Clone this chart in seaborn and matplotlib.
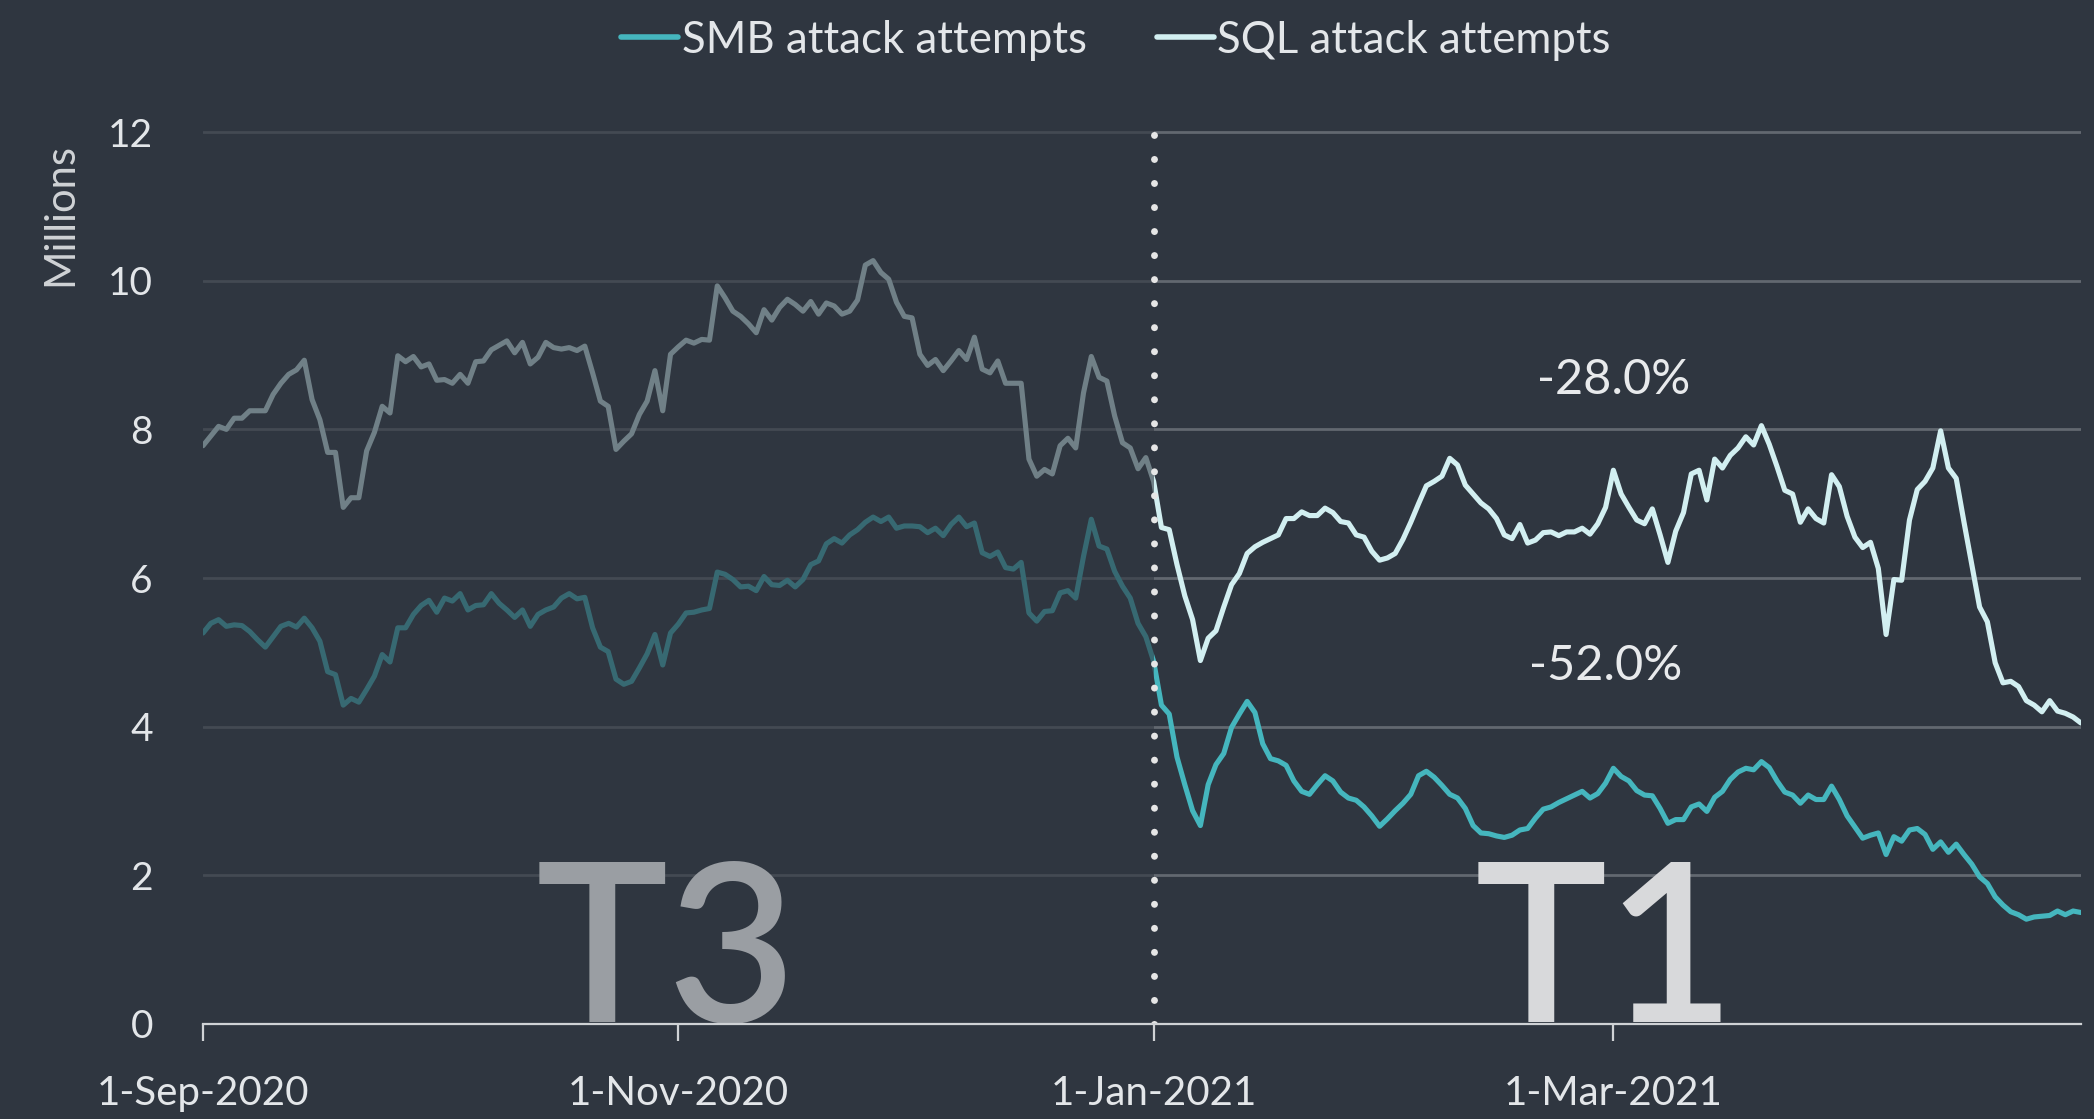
import matplotlib
matplotlib.use("Agg")
import matplotlib.pyplot as plt
import pandas as pd
import seaborn as sns
from matplotlib.lines import Line2D

# Daily attack attempts, in millions, 1 Sep 2020 - 30 Apr 2021
dates = pd.date_range("2020-09-01", "2021-04-30", freq="D")

sql_attempts = [
    7.78, 7.91, 8.04, 8.00, 8.15, 8.15, 8.25, 8.25, 8.25, 8.47,
    8.62, 8.74, 8.80, 8.93, 8.40, 8.13, 7.69, 7.69, 6.95, 7.08,
    7.08, 7.71, 7.96, 8.31, 8.22, 8.99, 8.91, 8.98, 8.84, 8.88,
    8.66, 8.67, 8.62, 8.74, 8.62, 8.91, 8.92, 9.07, 9.13, 9.19,
    9.03, 9.17, 8.88, 8.97, 9.17, 9.10, 9.08, 9.10, 9.06, 9.12,
    8.76, 8.38, 8.31, 7.73, 7.84, 7.94, 8.20, 8.38, 8.79, 8.25,
    9.01, 9.11, 9.20, 9.16, 9.21, 9.20, 9.93, 9.77, 9.59, 9.52,
    9.42, 9.30, 9.61, 9.47, 9.64, 9.75, 9.68, 9.59, 9.72, 9.55,
    9.70, 9.66, 9.55, 9.59, 9.74, 10.21, 10.27, 10.11, 10.02, 9.71,
    9.52, 9.50, 9.01, 8.86, 8.94, 8.79, 8.92, 9.06, 8.94, 9.24,
    8.81, 8.76, 8.92, 8.62, 8.62, 8.62, 7.60, 7.37, 7.46, 7.40,
    7.78, 7.88, 7.75, 8.49, 8.98, 8.70, 8.65, 8.18, 7.82, 7.75,
    7.47, 7.62, 7.30, 6.68, 6.65, 6.18, 5.76, 5.44, 4.89, 5.19,
    5.29, 5.61, 5.91, 6.06, 6.33, 6.42, 6.48, 6.53, 6.58, 6.80,
    6.80, 6.89, 6.84, 6.84, 6.94, 6.88, 6.76, 6.74, 6.58, 6.55,
    6.36, 6.24, 6.27, 6.33, 6.52, 6.75, 7.00, 7.24, 7.30, 7.37,
    7.61, 7.52, 7.25, 7.13, 7.01, 6.93, 6.80, 6.58, 6.53, 6.72,
    6.47, 6.51, 6.61, 6.62, 6.57, 6.62, 6.62, 6.67, 6.59, 6.73,
    6.95, 7.45, 7.13, 6.95, 6.78, 6.73, 6.93, 6.58, 6.21, 6.63,
    6.88, 7.40, 7.45, 7.05, 7.60, 7.48, 7.65, 7.75, 7.90, 7.79,
    8.05, 7.80, 7.50, 7.18, 7.13, 6.75, 6.93, 6.80, 6.74, 7.39,
    7.23, 6.83, 6.55, 6.41, 6.48, 6.13, 5.24, 5.98, 5.97, 6.78,
    7.19, 7.30, 7.48, 7.98, 7.48, 7.34, 6.75, 6.18, 5.61, 5.41,
    4.86, 4.59, 4.61, 4.54, 4.35, 4.29, 4.20, 4.35, 4.21, 4.18,
    4.13, 4.05,
]

smb_attempts = [
    5.26, 5.39, 5.44, 5.35, 5.37, 5.36, 5.28, 5.17, 5.07, 5.21,
    5.35, 5.39, 5.34, 5.46, 5.33, 5.15, 4.74, 4.70, 4.29, 4.38,
    4.33, 4.50, 4.68, 4.97, 4.87, 5.33, 5.33, 5.51, 5.63, 5.70,
    5.54, 5.73, 5.69, 5.79, 5.57, 5.63, 5.64, 5.79, 5.66, 5.57,
    5.47, 5.57, 5.35, 5.51, 5.57, 5.61, 5.73, 5.79, 5.72, 5.74,
    5.33, 5.07, 5.01, 4.64, 4.57, 4.61, 4.79, 4.98, 5.24, 4.83,
    5.26, 5.38, 5.53, 5.54, 5.57, 5.59, 6.08, 6.05, 5.98, 5.88,
    5.89, 5.83, 6.02, 5.91, 5.90, 5.97, 5.88, 5.98, 6.18, 6.23,
    6.46, 6.53, 6.47, 6.58, 6.65, 6.75, 6.82, 6.76, 6.82, 6.67,
    6.70, 6.70, 6.69, 6.61, 6.67, 6.57, 6.72, 6.82, 6.69, 6.74,
    6.34, 6.29, 6.35, 6.14, 6.12, 6.21, 5.53, 5.42, 5.55, 5.56,
    5.80, 5.83, 5.73, 6.29, 6.79, 6.43, 6.39, 6.09, 5.89, 5.73,
    5.39, 5.21, 4.88, 4.29, 4.17, 3.59, 3.22, 2.87, 2.67, 3.22,
    3.49, 3.64, 3.99, 4.17, 4.34, 4.19, 3.77, 3.57, 3.54, 3.48,
    3.27, 3.13, 3.09, 3.22, 3.34, 3.27, 3.12, 3.04, 3.01, 2.92,
    2.80, 2.66, 2.76, 2.87, 2.97, 3.09, 3.34, 3.40, 3.32, 3.21,
    3.09, 3.04, 2.90, 2.67, 2.57, 2.56, 2.53, 2.51, 2.54, 2.61,
    2.63, 2.77, 2.89, 2.92, 2.98, 3.03, 3.08, 3.13, 3.04, 3.10,
    3.24, 3.44, 3.33, 3.27, 3.14, 3.08, 3.07, 2.90, 2.70, 2.75,
    2.75, 2.92, 2.96, 2.86, 3.05, 3.13, 3.29, 3.39, 3.44, 3.42,
    3.53, 3.45, 3.27, 3.12, 3.08, 2.97, 3.08, 3.02, 3.02, 3.20,
    3.02, 2.80, 2.65, 2.50, 2.54, 2.57, 2.28, 2.52, 2.46, 2.61,
    2.63, 2.55, 2.35, 2.45, 2.31, 2.42, 2.28, 2.15, 1.98, 1.89,
    1.71, 1.60, 1.51, 1.47, 1.41, 1.44, 1.45, 1.46, 1.52, 1.47,
    1.52, 1.50,
]

series_names = ["SMB attack attempts", "SQL attack attempts"]
period_labels = ["T3", "T1"]
period_label_dates = ["2020-10-30 12:00", "2021-02-28"]
change_labels = ["-28.0%", "-52.0%"]
change_label_dates = ["2021-03-01", "2021-02-28"]
change_label_levels = [8.66, 4.82]
period_split = "2021-01-01"
y_ticks = [0, 2, 4, 6, 8, 10, 12]
x_tick_dates = ["2020-09-01", "2020-11-01", "2021-01-01", "2021-03-01"]
x_tick_labels = ["1-Sep-2020", "1-Nov-2020", "1-Jan-2021", "1-Mar-2021"]

BG = "#2f3640"
SMB_COLOR = "#45b6be"
SQL_COLOR = "#d2eff1"
TEXT = "#e3e6e9"
GRID = "#626870"

sns.set_theme(style="dark")
plt.rcParams["font.family"] = ["Lato", "DejaVu Sans"]
plt.rcParams["font.weight"] = "normal"

df = pd.DataFrame({"date": dates, "SMB": smb_attempts, "SQL": sql_attempts})

fig = plt.figure(figsize=(20.94, 11.19), dpi=100, facecolor=BG)
ax = fig.add_axes([0.09694, 0.0849, 0.8968, 0.8011])
ax.set_facecolor(BG)

sns.lineplot(data=df, x="date", y="SMB", ax=ax, color=SMB_COLOR, lw=3.7, zorder=2)
sns.lineplot(data=df, x="date", y="SQL", ax=ax, color=SQL_COLOR, lw=3.7, zorder=2.05)

split = pd.Timestamp(period_split)
# dim the earlier period
ax.axvspan(dates[0], split, color=BG, alpha=0.6, lw=0, zorder=2.2)
ax.axvline(split, ymin=0, ymax=12 / 12.06, color="#e6e6e6", lw=5.0,
           linestyle=(0, (0.01, 3.45)), dash_capstyle="round", zorder=3)

ax.set_xlim(dates[0], dates[-1])
ax.set_ylim(0, 12.06)
ax.set_yticks(y_ticks)
ax.set_yticklabels([str(t) for t in y_ticks])
ax.set_xticks(pd.to_datetime(x_tick_dates))
ax.set_xticklabels(x_tick_labels)
ax.set_xlabel("")
ax.set_ylabel("")

ax.yaxis.grid(True, color=GRID, lw=2)
ax.xaxis.grid(False)
ax.set_axisbelow(True)
for side in ["top", "right", "left"]:
    ax.spines[side].set_visible(False)
ax.spines["bottom"].set_color("#cfd2d5")
ax.spines["bottom"].set_linewidth(1.6)
ax.spines["bottom"].set_zorder(3)

ax.tick_params(axis="x", length=12, width=1.6, color="#cfd2d5", pad=25,
               labelsize=29, labelcolor=TEXT, bottom=True)
ax.tick_params(axis="y", length=0, pad=36, labelsize=28, labelcolor=TEXT)

period_colors = ["#9a9ea3", "#d8d9db"]
for lab, d, c in zip(period_labels, period_label_dates, period_colors):
    ax.text(pd.Timestamp(d), 0.03, lab, ha="center", va="baseline",
            fontsize=160, fontweight="semibold", color=c, zorder=2.3)

for lab, d, v in zip(change_labels, change_label_dates, change_label_levels):
    ax.text(pd.Timestamp(d), v, lab, ha="center", va="center",
            fontsize=35, color="#e8eaec", zorder=3)

handles = [Line2D([0], [0], color=SMB_COLOR, lw=4),
           Line2D([0], [0], color=SQL_COLOR, lw=4)]
fig.legend(handles, series_names, loc="center", bbox_to_anchor=(0.533, 0.964),
           ncol=2, frameon=False, fontsize=31.5, handlelength=1.3,
           handletextpad=0.08, columnspacing=1.6, labelcolor=TEXT)

fig.text(0.0287, 0.8079, "Millions", rotation=90, ha="center", va="center",
         fontsize=30, color="#d0d3d6")

fig.savefig("out.png", dpi=100, facecolor=BG)
